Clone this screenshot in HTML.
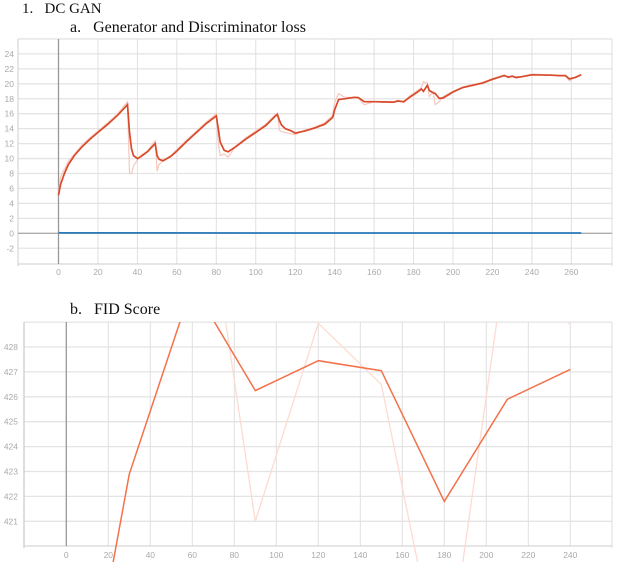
<!DOCTYPE html>
<html style="overflow:hidden"><head><meta charset="utf-8"><style>
html,body{margin:0;background:#fff;width:625px;height:572px;overflow:hidden;position:relative;font-family:"Liberation Serif",serif}
.t{position:absolute;color:#111;font-size:16px;white-space:pre;line-height:18px}
svg{position:absolute;left:0;top:0}
svg text{font-family:"Liberation Sans",sans-serif;font-size:8.5px;fill:#aaa}
</style></head><body>
<div class="t" style="left:22px;top:0px;font-size:15px">1.   DC GAN</div>
<div class="t" style="left:70px;top:19px">a.   Generator and Discriminator loss</div>
<div class="t" style="left:70px;top:301px">b.   FID Score</div>
<svg id="s" width="625" height="572"></svg>
<script>
const genX=[0,1,3,5,8,12,16,20,25,30,35,36,37,38,40,42,45,49,50,51,53,57,60,65,70,75,80,81,82,84,86,90,95,100,105,110,111,112,113,115,118,120,125,130,135,139,140,142,145,150,152,155,160,170,172,175,178,182,184,185,187,188,190,191,193,195,200,205,210,215,220,226,228,230,232,235,240,250,254,257,259,262,265];
const genSmooth=[5.1,6.5,8,9.2,10.4,11.6,12.6,13.5,14.6,15.8,17.2,13.5,11.3,10.4,10.0,10.3,10.9,12.0,10.4,9.9,9.7,10.3,11.0,12.3,13.5,14.7,15.7,14.0,12.2,11.1,10.9,11.6,12.6,13.5,14.4,15.7,15.9,15.1,14.5,14.0,13.7,13.4,13.7,14.1,14.6,15.5,16.5,17.9,18.0,18.2,18.15,17.6,17.6,17.55,17.7,17.6,18.2,18.9,19.3,19.0,19.8,19.1,18.8,18.7,18.05,18.1,18.9,19.5,19.8,20.1,20.6,21.1,20.9,21.0,20.85,20.95,21.2,21.15,21.1,21.1,20.65,20.85,21.2];
const genRaw=[5.5,7.5,8.6,9.6,10.6,11.8,12.8,13.7,14.8,16.0,17.6,8.0,8.0,9.0,9.8,10.5,11.0,12.4,8.3,9.2,9.7,10.4,11.2,12.5,13.7,14.9,16.0,12.0,10.4,10.6,10.2,11.7,12.8,13.7,14.6,15.9,16.1,13.8,13.6,13.5,13.3,13.2,13.8,14.2,14.8,15.8,17.5,18.7,18.2,18.2,18.1,17.2,17.6,17.5,17.8,17.5,18.4,19.1,19.5,20.3,20.1,18.3,18.9,17.2,17.6,18.3,19.0,19.6,19.9,20.2,20.7,21.2,20.8,21.1,20.7,21.0,21.3,21.2,21.1,21.1,20.4,20.9,21.2];
const discX=[0,1,50,100,150,200,265];
const discVals=[0.1,0.05,0.05,0.04,0.04,0.04,0.04];
const lossYTicks=[-2,0,2,4,6,8,10,12,14,16,18,20,22,24];
const lossXTicks=[0,20,40,60,80,100,120,140,160,180,200,220,240,260];
const fidX=[0,30,60,90,120,150,180,210,240];
const fidSmooth=[409.1,422.9,430.5,426.25,427.45,427.05,421.8,425.9,427.1];
const fidRaw=[440,445,438,421,428.95,426.5,414.1,432,428.9];
const fidYTicks=[421,422,423,424,425,426,427,428];
const fidXTicks=[0,20,40,60,80,100,120,140,160,180,200,220,240];

const NS="http://www.w3.org/2000/svg",S=document.getElementById('s');
function el(t,a,p){const e=document.createElementNS(NS,t);for(const k in a)e.setAttribute(k,a[k]);(p||S).appendChild(e);return e;}
const x1=v=>58.5+v*39.45/20, y1=v=>233.3-v*7.475;
const x2=v=>66.3+v*42/20, y2=v=>347-(v-428)*24.9;

const g1=el('g',{});


[...lossYTicks,26].forEach(v=>el('line',{x1:18,x2:612,y1:y1(v),y2:y1(v),stroke:'#e4e4e4','stroke-width':1.3},g1));
lossXTicks.forEach(v=>el('line',{x1:x1(v),x2:x1(v),y1:39,y2:264,stroke:'#e0e0e0','stroke-width':1},g1));
el('line',{x1:18,x2:18,y1:39,y2:266,stroke:'#ccc'},g1);
el('line',{x1:612,x2:612,y1:39,y2:266,stroke:'#ddd'},g1);
el('line',{x1:18,x2:612,y1:264,y2:264,stroke:'#ccc'},g1);
el('line',{x1:18,x2:612,y1:y1(0),y2:y1(0),stroke:'#999'},g1);
el('line',{x1:x1(0),x2:x1(0),y1:39,y2:264,stroke:'#999','stroke-width':1.3},g1);
lossYTicks.forEach(v=>{const t=el('text',{x:14,y:y1(v)+3,'text-anchor':'end'});t.textContent=v;

});
lossXTicks.forEach(v=>{const t=el('text',{x:x1(v),y:275,'text-anchor':'middle'});t.textContent=v;

});
function path(xs,ys,fx,fy){return xs.map((x,i)=>(i?'L':'M')+fx(x).toFixed(1)+' '+fy(ys[i]).toFixed(1)).join('');}
const pr=el('path',{d:path(genX,genRaw,x1,y1),fill:'none',stroke:'#f6c8bd','stroke-width':1.2});


const ps=el('path',{d:path(genX,genSmooth,x1,y1),fill:'none',stroke:'#d84a2b','stroke-width':1.7});


const pd=el('path',{d:path(discX,discVals,x1,y1),fill:'none',stroke:'#2b7bb9','stroke-width':1.7});



const cp=el('clipPath',{id:'c2'});
el('rect',{x:24,y:322,width:588,height:240},cp);
const g2=el('g',{});


[...fidYTicks,429].forEach(v=>el('line',{x1:24,x2:612,y1:y2(v),y2:y2(v),stroke:'#e4e4e4','stroke-width':1.3},g2));
fidXTicks.forEach(v=>el('line',{x1:x2(v),x2:x2(v),y1:322,y2:546,stroke:'#e0e0e0'},g2));
el('line',{x1:24,x2:24,y1:322,y2:548,stroke:'#ccc','stroke-width':1.3},g2);
el('line',{x1:612,x2:612,y1:322,y2:548,stroke:'#ddd'},g2);
el('line',{x1:24,x2:612,y1:546,y2:546,stroke:'#ccc'},g2);
el('line',{x1:x2(0),x2:x2(0),y1:322,y2:546,stroke:'#999','stroke-width':1.3},g2);
fidYTicks.forEach(v=>{const t=el('text',{x:18,y:y2(v)+3,'text-anchor':'end'});t.textContent=v;

});
fidXTicks.forEach(v=>{const t=el('text',{x:x2(v),y:558,'text-anchor':'middle'});t.textContent=v;

});
const fr=el('path',{d:path(fidX,fidRaw,x2,y2),fill:'none',stroke:'#fddbd0','stroke-width':1.3,'clip-path':'url(#c2)'});


const fs=el('path',{d:path(fidX,fidSmooth,x2,y2),fill:'none',stroke:'#f4714a','stroke-width':1.5,'clip-path':'url(#c2)'});


</script>
</body></html>
